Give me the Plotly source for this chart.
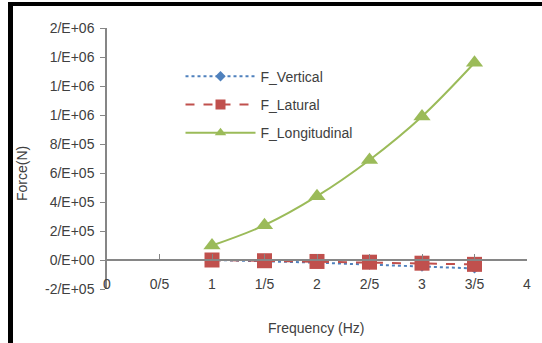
import plotly.graph_objects as go

freq = [1, 1.5, 2, 2.5, 3, 3.5]
f_vertical = [0, -8000, -18000, -32000, -45000, -58000]
f_latural = [0, -5000, -10000, -15000, -22000, -30000]
f_longitudinal = [100000, 240000, 440000, 690000, 990000, 1360000]

x_tickvals = [0, 0.5, 1, 1.5, 2, 2.5, 3, 3.5, 4]
x_ticktext = ["0", "0/5", "1", "1/5", "2", "2/5", "3", "3/5", "4"]
y_tickvals = [-200000, 0, 200000, 400000, 600000, 800000, 1000000, 1200000, 1400000, 1600000]
y_ticktext = ["-2/E+05", "0/E+00", "2/E+05", "4/E+05", "6/E+05", "8/E+05",
              "1/E+06", "1/E+06", "1/E+06", "2/E+06"]

FONT = "Liberation Sans"
TXT = "#404040"
AX = "#868686"
FS = 14

series = [
    ("F_Vertical", f_vertical, "#4F81BD", "dot", "diamond", 8, 8, "linear", "a"),
    ("F_Latural", f_latural, "#C0504D", "dash", "square", 15, 10, "linear", "b"),
    ("F_Longitudinal", f_longitudinal, "#9BBB59", "solid", "triangle-up", 15, 10, "spline", "c"),
]

fig = go.Figure()
for name, vals, col, dash, sym, msize, lsize, shape, grp in series:
    fig.add_trace(go.Scatter(x=freq, y=vals, name=name, mode="lines+markers",
                             legendgroup=grp, showlegend=False, line_shape=shape,
                             line=dict(color=col, width=2, dash=dash),
                             marker=dict(symbol=sym, size=msize, color=col)))
    # legend entry with smaller marker (as in the reference legend)
    fig.add_trace(go.Scatter(x=[None], y=[None], name=name, mode="lines+markers",
                             legendgroup=grp, showlegend=True,
                             line=dict(color=col, width=2, dash=dash),
                             marker=dict(symbol=sym, size=lsize, color=col)))

ymin, ymax = -200000, 1600000
pos0 = (0 - ymin) / (ymax - ymin)

fig.update_layout(
    width=542, height=343,
    margin=dict(l=107, r=15, t=28, b=54),
    plot_bgcolor="white", paper_bgcolor="white",
    font=dict(family=FONT, size=FS, color=TXT),
    showlegend=True,
    legend=dict(x=0.175, y=0.875, xanchor="left", yanchor="top",
                bgcolor="rgba(0,0,0,0)", font=dict(family=FONT, size=FS, color=TXT),
                traceorder="grouped", tracegroupgap=7, itemwidth=70),
    xaxis=dict(range=[0, 4], tickvals=x_tickvals, ticktext=x_ticktext,
               showgrid=False, zeroline=False, showline=True, linecolor=AX, linewidth=1.5,
               ticks="inside", ticklen=5, tickcolor=AX,
               anchor="free", position=pos0, ticklabelstandoff=11,
               tickfont=dict(family=FONT, size=FS, color=TXT)),
    yaxis=dict(range=[ymin, ymax], tickvals=y_tickvals, ticktext=y_ticktext,
               showgrid=False, zeroline=False, showline=True, linecolor=AX, linewidth=1.5,
               ticks="outside", ticklen=5, tickcolor=AX, ticklabelstandoff=3,
               tickfont=dict(family=FONT, size=FS, color=TXT)),
)

fig.add_annotation(text="Frequency (Hz)", xref="paper", yref="paper",
                   x=(316 - 107) / 420, y=(289 - 328) / 261, showarrow=False,
                   xanchor="center", yanchor="middle",
                   font=dict(family=FONT, size=FS, color=TXT))
fig.add_annotation(text="Force(N)", xref="paper", yref="paper", textangle=-90,
                   x=(22 - 107) / 420, y=(289 - 174) / 261, showarrow=False,
                   xanchor="center", yanchor="middle",
                   font=dict(family=FONT, size=FS, color=TXT))

# black frame on left and top
def px_x(p):
    return (p - 107) / 420

def px_y(p):
    return (289 - p) / 261

fig.add_shape(type="rect", xref="paper", yref="paper",
              x0=px_x(8), x1=px_x(13), y0=px_y(343), y1=px_y(2),
              fillcolor="black", line_width=0, layer="above")
fig.add_shape(type="rect", xref="paper", yref="paper",
              x0=px_x(8), x1=px_x(542), y0=px_y(6), y1=px_y(2),
              fillcolor="black", line_width=0, layer="above")

fig.write_html("out.html")
